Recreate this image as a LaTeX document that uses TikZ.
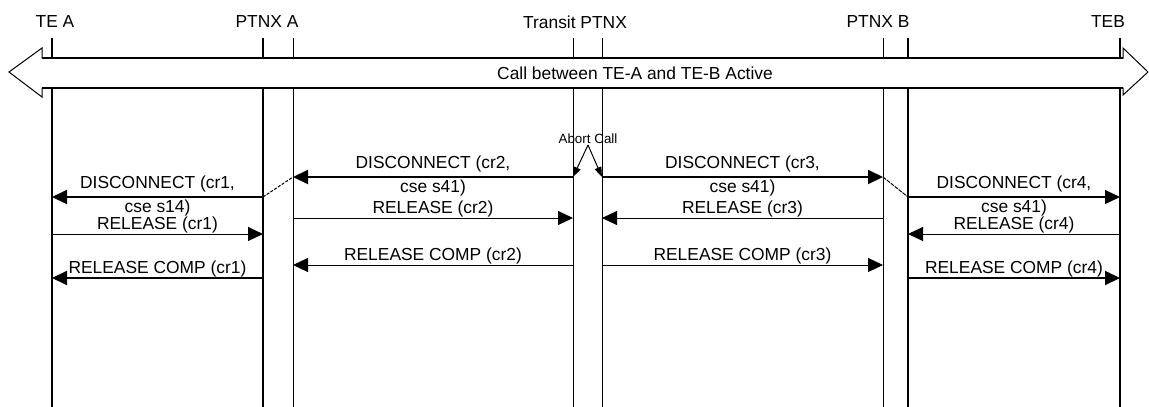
\documentclass[tikz,border=0pt]{standalone}
\usepackage{fontspec}
\setmainfont{Liberation Sans}
\usepackage{tikz}
\usetikzlibrary{arrows.meta}
\newcommand{\msgfont}{\fontsize{17.4}{24}\selectfont}
\tikzset{
  thickline/.style={line width=2pt},
  thinline/.style={line width=1pt},
  msg/.style={-{Triangle[length=15pt,width=14pt]}},
  lbl/.style={font=\msgfont,inner sep=0pt,anchor=base,yshift=5pt},
  lbltwo/.style={font=\msgfont,inner sep=0pt,align=center,yshift=1.5pt},
}

\begin{document}
\begin{tikzpicture}[x=1pt,y=-1pt]
\useasboundingbox (0,0) rectangle (1149,407);
% entity names:
\node[font=\msgfont] (teA) at (55,22) {TE A};
\node[font=\msgfont] (ptnxA) at (267,22) {PTNX A};
\node[font=\msgfont] (transit) at (575,22) {Transit PTNX};
\node[font=\msgfont] (ptnxB) at (878,22) {PTNX B};
\node[font=\msgfont] (teB) at (1108,22) {TEB};
% lifeline ends and message rows:
\foreach \ln/\x in {tea/52,pa1/263,pa2/293,tr1/573,tr2/602,pb1/883,pb2/908,teb/1120}{
  \coordinate (\ln-top) at (\x,38);
  \coordinate (\ln-bot) at (\x,407);
}
\foreach \rw/\y in {d2/177,d1/197,r2/218,r1/234,c2/265,c1/278}{
  \coordinate (\rw) at (0,\y);
}
% lifelines:
\draw[thickline] (tea-top) -- (tea-bot);
\draw[thickline] (pa1-top) -- (pa1-bot);
\draw[thinline] (pa2-top) -- (pa2-bot);
\draw[thinline] (tr1-top) -- (tr1-bot);
\draw[thinline] (tr2-top) -- (tr2-bot);
\draw[thinline] (pb1-top) -- (pb1-bot);
\draw[thickline] (pb2-top) -- (pb2-bot);
\draw[thickline] (teb-top) -- (teb-bot);
% call active band:
\path[draw=black,line width=1pt,fill=white] (42,58) -- (1123,58) -- (1123,48) -- (1148,72)
  -- (1123,95) -- (1123,88) -- (42,88) -- (42,97) -- (9,72) -- (42,48) -- cycle;
\draw[line width=2.2pt] (42,58) -- (1123,58);
\draw[line width=2.2pt] (42,88) -- (1123,88);
\node[font=\msgfont] (active) at (635,73) {Call between TE-A and TE-B Active};
% abort at transit:
\node[font=\fontsize{13.4}{15}\selectfont,inner sep=1pt] (abort) at (588,139) {Abort Call};
\coordinate (abortpt) at (588,145);
\draw[thinline,-{Triangle[length=10pt,width=7pt]}] (abortpt) -- (tr1-top |- d2);
\draw[thinline,-{Triangle[length=10pt,width=7pt]}] (abortpt) -- (tr2-top |- d2);
% disconnect:
\draw[thickline,msg] (pa1-top |- d1) -- (tea-top |- d1) node[lbltwo,midway] {DISCONNECT (cr1,\\cse s14)};
\draw[thickline,msg] (tr1-top |- d2) -- (pa2-top |- d2) node[lbltwo,midway] {DISCONNECT (cr2,\\cse s41)};
\draw[thickline,msg] (tr2-top |- d2) -- (pb1-top |- d2) node[lbltwo,midway] {DISCONNECT (cr3,\\cse s41)};
\draw[line width=1.3pt,msg] (pb2-top |- d1) -- (teb-top |- d1) node[lbltwo,midway] {DISCONNECT (cr4,\\cse s41)};
\draw[thinline,dash pattern=on 3pt off 1.5pt] (pa1-top |- d1) -- (pa2-top |- d2);
\draw[thinline,dash pattern=on 4pt off 1pt] (pb1-top |- d2) -- (pb2-top |- d1);
% release:
\draw[thinline,msg] (tea-top |- r1) -- (pa1-top |- r1) node[lbl,midway] {RELEASE (cr1)};
\draw[thinline,msg] (pa2-top |- r2) -- (tr1-top |- r2) node[lbl,midway] {RELEASE (cr2)};
\draw[thinline,msg] (pb1-top |- r2) -- (tr2-top |- r2) node[lbl,midway] {RELEASE (cr3)};
\draw[thinline,msg] (teb-top |- r1) -- (pb2-top |- r1) node[lbl,midway] {RELEASE (cr4)};
% release complete:
\draw[thickline,msg] (pa1-top |- c1) -- (tea-top |- c1) node[lbl,midway] {RELEASE COMP (cr1)};
\draw[thinline,msg] (tr1-top |- c2) -- (pa2-top |- c2) node[lbl,midway] {RELEASE COMP (cr2)};
\draw[thinline,msg] (tr2-top |- c2) -- (pb1-top |- c2) node[lbl,midway] {RELEASE COMP (cr3)};
\draw[thickline,msg] (pb2-top |- c1) -- (teb-top |- c1) node[lbl,midway] {RELEASE COMP (cr4)};
\end{tikzpicture}
\end{document}
